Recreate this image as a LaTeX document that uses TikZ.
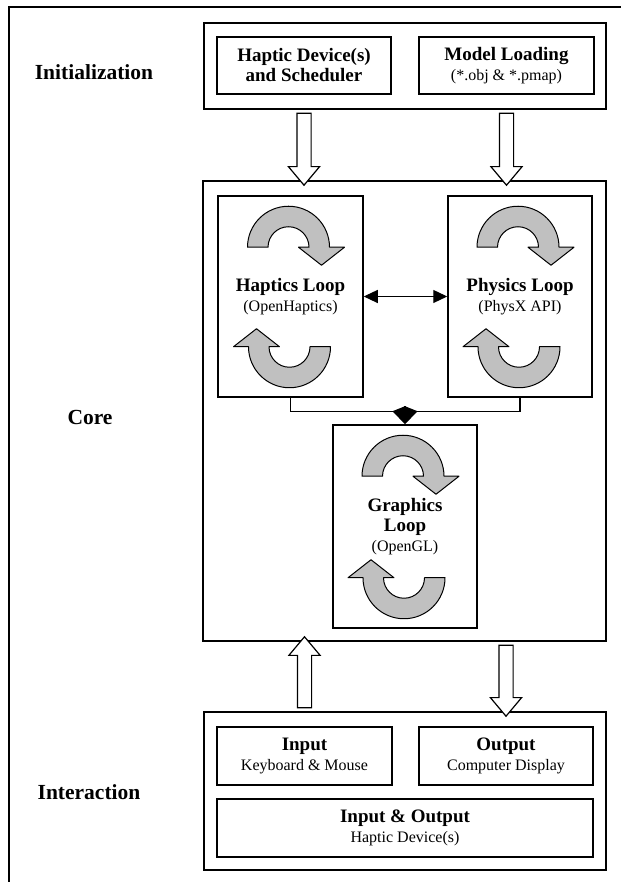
\documentclass[tikz,border=0pt]{standalone}
\usepackage{fontspec}
\setmainfont{Liberation Serif}
\usepackage{xcolor}
\definecolor{LoopFill}{RGB}{192,192,192}
\definecolor{LineColor}{RGB}{0,0,0}
\usetikzlibrary{positioning,arrows.meta,shapes.arrows,calc}
\newcommand{\boxsub}[1]{{\fontsize{16}{20}\selectfont\mdseries #1}}
\tikzset{
  % Stage label on the left
  stage/.style={
    font=\fontsize{21.5}{24}\selectfont\bfseries
  },
  % Outer group box
  group/.style={
    draw=LineColor,
    line width=1.5pt,
    inner sep=0pt
  },
  % Component box
  unit/.style={
    draw=LineColor,
    line width=1.5pt,
    inner sep=0pt,
    align=center,
    minimum height=57pt,
    font=\fontsize{19}{20}\selectfont\bfseries
  },
  % Loop box
  loopbox/.style={
    unit,
    minimum width=144pt,
    minimum height=201pt
  },
  % Hollow block arrow
  flow/.style={
    single arrow,
    draw=LineColor,
    fill=white,
    line width=1.2pt,
    inner xsep=0pt,
    inner ysep=6.5pt,
    single arrow head extend=8.5pt,
    single arrow tip angle=80
  },
  % Plain connector
  link/.style={
    draw=LineColor,
    line width=1.2pt
  },
  % Two-way connector
  twoway/.style={
    link,
    {Triangle[length=14pt,width=13pt]}-{Triangle[length=14pt,width=13pt]}
  },
  % Curved loop arrow
  turnarrow/.pic={
    \draw[line width=1pt, line join=round, fill=LoopFill]
      (-41,0) arc[start angle=180, end angle=0, radius=41]
      -- (56,0) -- (33,-18) -- (10,0) -- (20.5,0)
      arc[start angle=0, end angle=180, radius=20.5] -- cycle;
  }
}

\begin{document}
\begin{tikzpicture}[x=1pt, y=1pt]
  \useasboundingbox (0,0) rectangle (621,882);
  \draw[line width=2pt] (9,0) -- (9,874.5) -- (621,874.5);

  % Initialization
  \node[stage] (lblinit) at (94,810) {Initialization};
  \node[group, minimum width=402pt, minimum height=86pt] (init) at (405,816) {};
  \node[unit, minimum width=174pt] (hapdev) at (304,816.5) {Haptic Device(s)\\and Scheduler};
  \node[unit, minimum width=175pt] (model) at (506.5,816.5) {Model Loading\\\boxsub{(*.obj \& *.pmap)}};

  % Core
  \node[stage] (lblcore) at (90,465) {Core};
  \node[group, minimum width=403pt, minimum height=460pt] (core) at (404.5,471) {};
  \node[loopbox, minimum width=145pt] (haploop) at (290.5,585.5) {Haptics Loop\\\boxsub{(OpenHaptics)}};
  \node[loopbox] (physloop) at (520,585.5) {Physics Loop\\\boxsub{(PhysX API)}};
  \node[loopbox, minimum height=203pt] (gfxloop) at (405,355.5) {Graphics\\Loop\\\boxsub{(OpenGL)}};

  \foreach \b in {haploop,physloop,gfxloop}{
    \pic at ([xshift=-2pt,yshift=-52pt]\b.north) {turnarrow};
    \pic[rotate=180] at ([xshift=-1pt,yshift=51pt]\b.south) {turnarrow};
  }

  \draw[twoway] (haploop.east) -- (physloop.west);
  \coordinate (join) at ($(gfxloop.north)+(0,13)$);
  \draw[link] (haploop.south) |- (join);
  \draw[link] (physloop.south) |- (join);
  \draw[link, -{Kite[length=18pt,width=25pt,inset=5pt]}] ([yshift=5pt]join) -- (gfxloop.north);

  % Interaction
  \node[stage] (lblinter) at (89,90) {Interaction};
  \node[group, minimum width=402pt, minimum height=158pt] (inter) at (405,91) {};
  \node[unit, minimum width=175pt, minimum height=58pt] (input) at (304.5,126) {Input\\\boxsub{Keyboard \& Mouse}};
  \node[unit, minimum width=174pt, minimum height=58pt] (output) at (506,126) {Output\\\boxsub{Computer Display}};
  \node[unit, minimum width=376pt, minimum height=58pt] (inout) at (405,54) {Input \& Output\\\boxsub{Haptic Device(s)}};

  % Block arrows between the stages
  \node[flow, minimum height=72pt, rotate=-90] (arrhap) at ($(hapdev.south |- init.south)!0.5!(hapdev.south |- core.north)$) {};
  \node[flow, minimum height=72pt, rotate=-90] (arrmod) at ($(model.south |- init.south)!0.5!(model.south |- core.north)$) {};
  \node[flow, minimum height=71pt, rotate=90] (arrin) at ($(input.north |- inter.north)!0.5!(input.north |- core.south)$) {};
  \node[flow, minimum height=71pt, rotate=-90] (arrout) at ($(output.north |- inter.north)!0.5!(output.north |- core.south)$) {};
\end{tikzpicture}
\end{document}
